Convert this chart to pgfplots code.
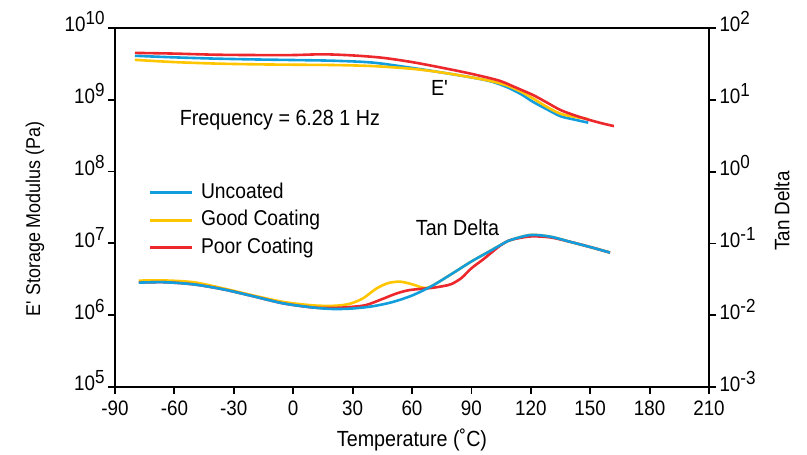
\documentclass[border=0pt]{standalone}
\usepackage{fontspec}
\setmainfont{Liberation Sans}[FakeStretch=0.9]
\usepackage{pgfplots}
\usepackage{pgfplotstable}
\pgfplotsset{compat=1.18}
\definecolor{cblue}{RGB}{18,158,220}
\definecolor{cyellow}{RGB}{255,198,0}
\definecolor{cred}{RGB}{236,40,44}
\newcommand{\pw}[1]{10\raisebox{7bp}{\fontsize{19}{19}\selectfont #1}}

\pgfplotstableread{
T E
-80 4.1e9
-60 3.9e9
-40 3.75e9
-20 3.65e9
0 3.58e9
20 3.5e9
40 3.3e9
60 2.78e9
75 2.4e9
90 2.05e9
100 1.8e9
108 1.5e9
115 1.2e9
121 9.4e8
128 7.4e8
135 5.9e8
142 5.3e8
149 4.8e8
}\Eblue
\pgfplotstableread{
T E
-80 3.6e9
-60 3.35e9
-40 3.2e9
-20 3.12e9
0 3.08e9
20 3.05e9
40 2.95e9
60 2.7e9
75 2.4e9
90 2.05e9
100 1.82e9
108 1.58e9
115 1.3e9
121 1.05e9
128 8.0e8
135 6.4e8
142 5.8e8
149 5.4e8
}\Eyellow
\pgfplotstableread{
T E
-80 4.5e9
-60 4.4e9
-40 4.25e9
-20 4.2e9
0 4.2e9
15 4.3e9
30 4.15e9
45 3.85e9
60 3.35e9
75 2.8e9
90 2.3e9
104 1.85e9
112 1.5e9
121 1.17e9
128 9.2e8
135 7.2e8
142 6.1e8
149 5.3e8
156 4.7e8
162 4.3e8
}\Ered
\pgfplotstableread{
T D
-78 0.0284
-65 0.0288
-50 0.0268
-35 0.0228
-20 0.0183
-5 0.0146
10 0.0128
20 0.0122
30 0.0124
40 0.0133
50 0.0152
60 0.0188
70 0.0255
80 0.0375
90 0.0560
100 0.0800
105 0.0960
110 0.1120
120 0.1310
130 0.1240
140 0.1050
150 0.0890
160 0.0745
}\Dblue
\pgfplotstableread{
T D
-78 0.0303
-65 0.0305
-50 0.0287
-35 0.0235
-20 0.0188
-5 0.0153
10 0.0137
20 0.0135
28 0.0143
35 0.0170
42 0.0235
48 0.0280
54 0.0293
60 0.0270
66 0.0240
70 0.0255
80 0.0375
90 0.0560
100 0.0800
105 0.0960
110 0.1120
120 0.1310
130 0.1240
140 0.1050
150 0.0890
160 0.0745
}\Dyellow
\pgfplotstableread{
T D
-78 0.0284
-65 0.0288
-50 0.0268
-35 0.0228
-20 0.0183
-5 0.0146
10 0.0128
20 0.0126
30 0.0131
37 0.0139
45 0.0168
52 0.0200
58 0.0222
64 0.0232
70 0.0240
76 0.0255
80 0.0272
85 0.0330
90 0.0450
96 0.0600
100 0.0740
105 0.0950
110 0.1120
120 0.1250
130 0.1210
140 0.1050
150 0.0890
160 0.0745
}\Dred

\begin{document}
\begin{tikzpicture}
\begin{axis}[
  name=main, at={(0,0)}, anchor=south west,
  scale only axis, width=594bp, height=359bp,
  xmin=-90, xmax=210, ymode=log, ymin=1e5, ymax=1e10,
  xtick={-90,-60,-30,0,30,60,90,120,150,180,210},
  xticklabels={-90,-60,-30,0,30,60,90,120,150,180,210},
  ytick={1e5,1e6,1e7,1e8,1e9,1e10},
  yticklabels={\pw{5},\pw{6},\pw{7},\pw{8},\pw{9},\pw{10}},
  yminorticks=false,
  xtick pos=bottom, ytick pos=left,
  tick align=outside,
  major tick length=7bp,
  axis line style={line width=1.8bp},
  every tick/.style={line width=1.8bp, black},
  tick label style={font=\fontsize{21}{21}\selectfont},
  xticklabel style={yshift=-3bp},
  yticklabel style={anchor=base east, yshift=-4bp},
  xlabel={Temperature (˚C)},
  xlabel style={at={(rel axis cs:0.5,-0.167)}, anchor=base, font=\fontsize{22}{22}\selectfont},
  ylabel={E\textquotesingle{} Storage Modulus (Pa)},
  ylabel style={at={(rel axis cs:-0.1347,0.468)}, anchor=center, font=\fontsize{20}{20}\selectfont},
  legend style={draw=none, fill=none, at={(rel axis cs:0.056,0.571)}, anchor=north west,
    font=\fontsize{21.5}{21.5}\selectfont, inner sep=0pt, row sep=6.5bp,
    nodes={inner sep=0pt, text height=16bp, text depth=5bp}},
  legend cell align=left,
  legend image code/.code={\draw[#1] (0bp,0bp) -- (42bp,0bp);},
]
\addplot[cblue, line width=2.6bp, smooth] table[x=T, y=E] {\Eblue};
\addlegendentry{\hspace{8bp}Uncoated}
\addplot[cyellow, line width=2.6bp, smooth] table[x=T, y=E] {\Eyellow};
\addlegendentry{\hspace{8bp}Good Coating}
\addplot[cred, line width=2.6bp, smooth] table[x=T, y=E] {\Ered};
\addlegendentry{\hspace{8bp}Poor Coating}
\node[font=\fontsize{22}{22}\selectfont] at (axis cs:74,1.46e9) {E\textquotesingle};
\node[font=\fontsize{22}{22}\selectfont] at (axis cs:-6.7,5.24e8) {Frequency = 6.28 1 Hz};
\node[font=\fontsize{22}{22}\selectfont] at (axis cs:83,1.64e7) {Tan Delta};
\end{axis}
\begin{axis}[
  at={(0,0)}, anchor=south west,
  scale only axis, width=594bp, height=359bp,
  xmin=-90, xmax=210, ymode=log, ymin=1e-3, ymax=1e2,
  axis x line=none, axis y line*=right,
  ytick={1e-3,1e-2,1e-1,1e0,1e1,1e2},
  yticklabels={\pw{-3},\pw{-2},\pw{-1},\pw{0},\pw{1},\pw{2}},
  yminorticks=false,
  tick align=outside,
  major tick length=7bp,
  axis line style={line width=1.8bp},
  every tick/.style={line width=1.8bp, black},
  tick label style={font=\fontsize{21}{21}\selectfont},
  yticklabel style={anchor=base west, yshift=-4bp},
  ylabel={Tan Delta},
  ylabel style={at={(rel axis cs:1.1229,0.49)}, anchor=center, font=\fontsize{21}{21}\selectfont},
]
\addplot[cyellow, line width=2.6bp, smooth] table[x=T, y=D] {\Dyellow};
\addplot[cred, line width=2.6bp, smooth] table[x=T, y=D] {\Dred};
\addplot[cblue, line width=2.6bp, smooth] table[x=T, y=D] {\Dblue};
\end{axis}
\pgfresetboundingbox
\path[use as bounding box] (-115bp,-68bp) rectangle (692bp,387bp);
\end{tikzpicture}
\end{document}
